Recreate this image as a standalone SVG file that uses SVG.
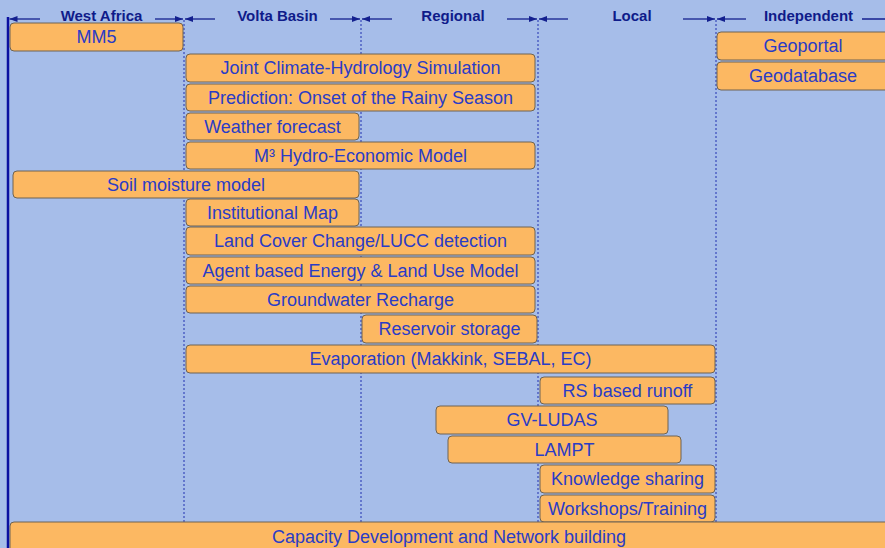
<svg xmlns="http://www.w3.org/2000/svg" width="885" height="548" viewBox="0 0 885 548">
<defs>
<marker id="ah" viewBox="0 0 8 8" refX="8" refY="4" markerWidth="8" markerHeight="8" markerUnits="userSpaceOnUse" orient="auto">
<path d="M0,1 L8,4 L0,7 Z" fill="#14208f"/>
</marker>
<style>
.hd{font-family:"Liberation Sans",Arial,sans-serif;font-weight:bold;font-size:15px;fill:#0f1b8a;text-anchor:middle}
.ar{stroke:#14208f;stroke-width:1.3;fill:none;marker-end:url(#ah)}
.dv{stroke:#2030b0;stroke-width:1;stroke-dasharray:2 2;fill:none}
.bx rect{fill:#fcb862;stroke:#6e6352;stroke-width:1}
.bx text{font-family:"Liberation Sans",Arial,sans-serif;font-size:18px;fill:#2a3cc6;text-anchor:middle}
</style>
</defs>
<rect x="0" y="0" width="885" height="548" fill="#a6bde9"/>
<g id="connectors">
<line class="dv" x1="184" y1="20" x2="184" y2="522"/>
<line class="dv" x1="361" y1="20" x2="361" y2="522"/>
<line class="dv" x1="538" y1="20" x2="538" y2="522"/>
<line class="dv" x1="716" y1="20" x2="716" y2="522"/>
<line x1="8" y1="17" x2="8" y2="548" stroke="#0a0fa0" stroke-width="2.5"/>
<line class="ar" x1="40" y1="19" x2="9.5" y2="19"/>
<line class="ar" x1="155" y1="19" x2="183" y2="19"/>
<line class="ar" x1="215" y1="19" x2="185" y2="19"/>
<line class="ar" x1="330" y1="19" x2="360" y2="19"/>
<line class="ar" x1="392" y1="19" x2="362" y2="19"/>
<line class="ar" x1="507" y1="19" x2="537" y2="19"/>
<line class="ar" x1="568" y1="19" x2="539" y2="19"/>
<line class="ar" x1="683" y1="19" x2="715" y2="19"/>
<line class="ar" x1="746" y1="19" x2="717" y2="19"/>
<line class="ar" x1="862" y1="19" x2="895" y2="19"/>
</g>
<g id="headers">
<text class="hd" x="101.5" y="20.5">West Africa</text>
<text class="hd" x="277.5" y="20.5">Volta Basin</text>
<text class="hd" x="453" y="20.5">Regional</text>
<text class="hd" x="632" y="20.5">Local</text>
<text class="hd" x="808.5" y="20.5">Independent</text>
</g>
<g id="mm5" class="bx"><rect x="10" y="23" width="173" height="28" rx="4"/><text x="96.5" y="43">MM5</text></g>
<g id="geoportal" class="bx"><rect x="717" y="32" width="172" height="28" rx="4"/><text x="803" y="52">Geoportal</text></g>
<g id="geodatabase" class="bx"><rect x="717" y="62" width="172" height="28" rx="4"/><text x="803" y="82">Geodatabase</text></g>
<g id="joint" class="bx"><rect x="186" y="54" width="349" height="28" rx="4"/><text x="360.5" y="74">Joint Climate-Hydrology Simulation</text></g>
<g id="prediction" class="bx"><rect x="186" y="84" width="349" height="27" rx="4"/><text x="360.5" y="103.5">Prediction: Onset of the Rainy Season</text></g>
<g id="weather" class="bx"><rect x="186" y="113" width="173" height="27" rx="4"/><text x="272.5" y="132.5">Weather forecast</text></g>
<g id="m3" class="bx"><rect x="186" y="142" width="349" height="27" rx="4"/><text x="360.5" y="161.5">M³ Hydro-Economic Model</text></g>
<g id="soil" class="bx"><rect x="13" y="171" width="346" height="27" rx="4"/><text x="186" y="190.5">Soil moisture model</text></g>
<g id="institutional" class="bx"><rect x="186" y="199" width="173" height="27" rx="4"/><text x="272.5" y="218.5">Institutional Map</text></g>
<g id="landcover" class="bx"><rect x="186" y="227" width="349" height="28" rx="4"/><text x="360.5" y="247">Land Cover Change/LUCC detection</text></g>
<g id="agent" class="bx"><rect x="186" y="257" width="349" height="27" rx="4"/><text x="360.5" y="276.5">Agent based Energy &amp; Land Use Model</text></g>
<g id="groundwater" class="bx"><rect x="186" y="286" width="349" height="27" rx="4"/><text x="360.5" y="305.5">Groundwater Recharge</text></g>
<g id="reservoir" class="bx"><rect x="362" y="315" width="175" height="28" rx="4"/><text x="449.5" y="335">Reservoir storage</text></g>
<g id="evaporation" class="bx"><rect x="186" y="345" width="529" height="28" rx="4"/><text x="450.5" y="365">Evaporation (Makkink, SEBAL, EC)</text></g>
<g id="rsrunoff" class="bx"><rect x="540" y="377" width="175" height="27" rx="4"/><text x="627.5" y="396.5">RS based runoff</text></g>
<g id="gvludas" class="bx"><rect x="436" y="406" width="232" height="28" rx="4"/><text x="552" y="426">GV-LUDAS</text></g>
<g id="lampt" class="bx"><rect x="448" y="436" width="233" height="27" rx="4"/><text x="564.5" y="455.5">LAMPT</text></g>
<g id="knowledge" class="bx"><rect x="540" y="465" width="175" height="28" rx="4"/><text x="627.5" y="485">Knowledge sharing</text></g>
<g id="workshops" class="bx"><rect x="540" y="495" width="175" height="27" rx="4"/><text x="627.5" y="514.5">Workshops/Training</text></g>
<g id="capacity" class="bx"><rect x="10" y="522" width="885" height="34" rx="4"/><text x="449" y="543">Capacity Development and Network building</text></g>
</svg>
